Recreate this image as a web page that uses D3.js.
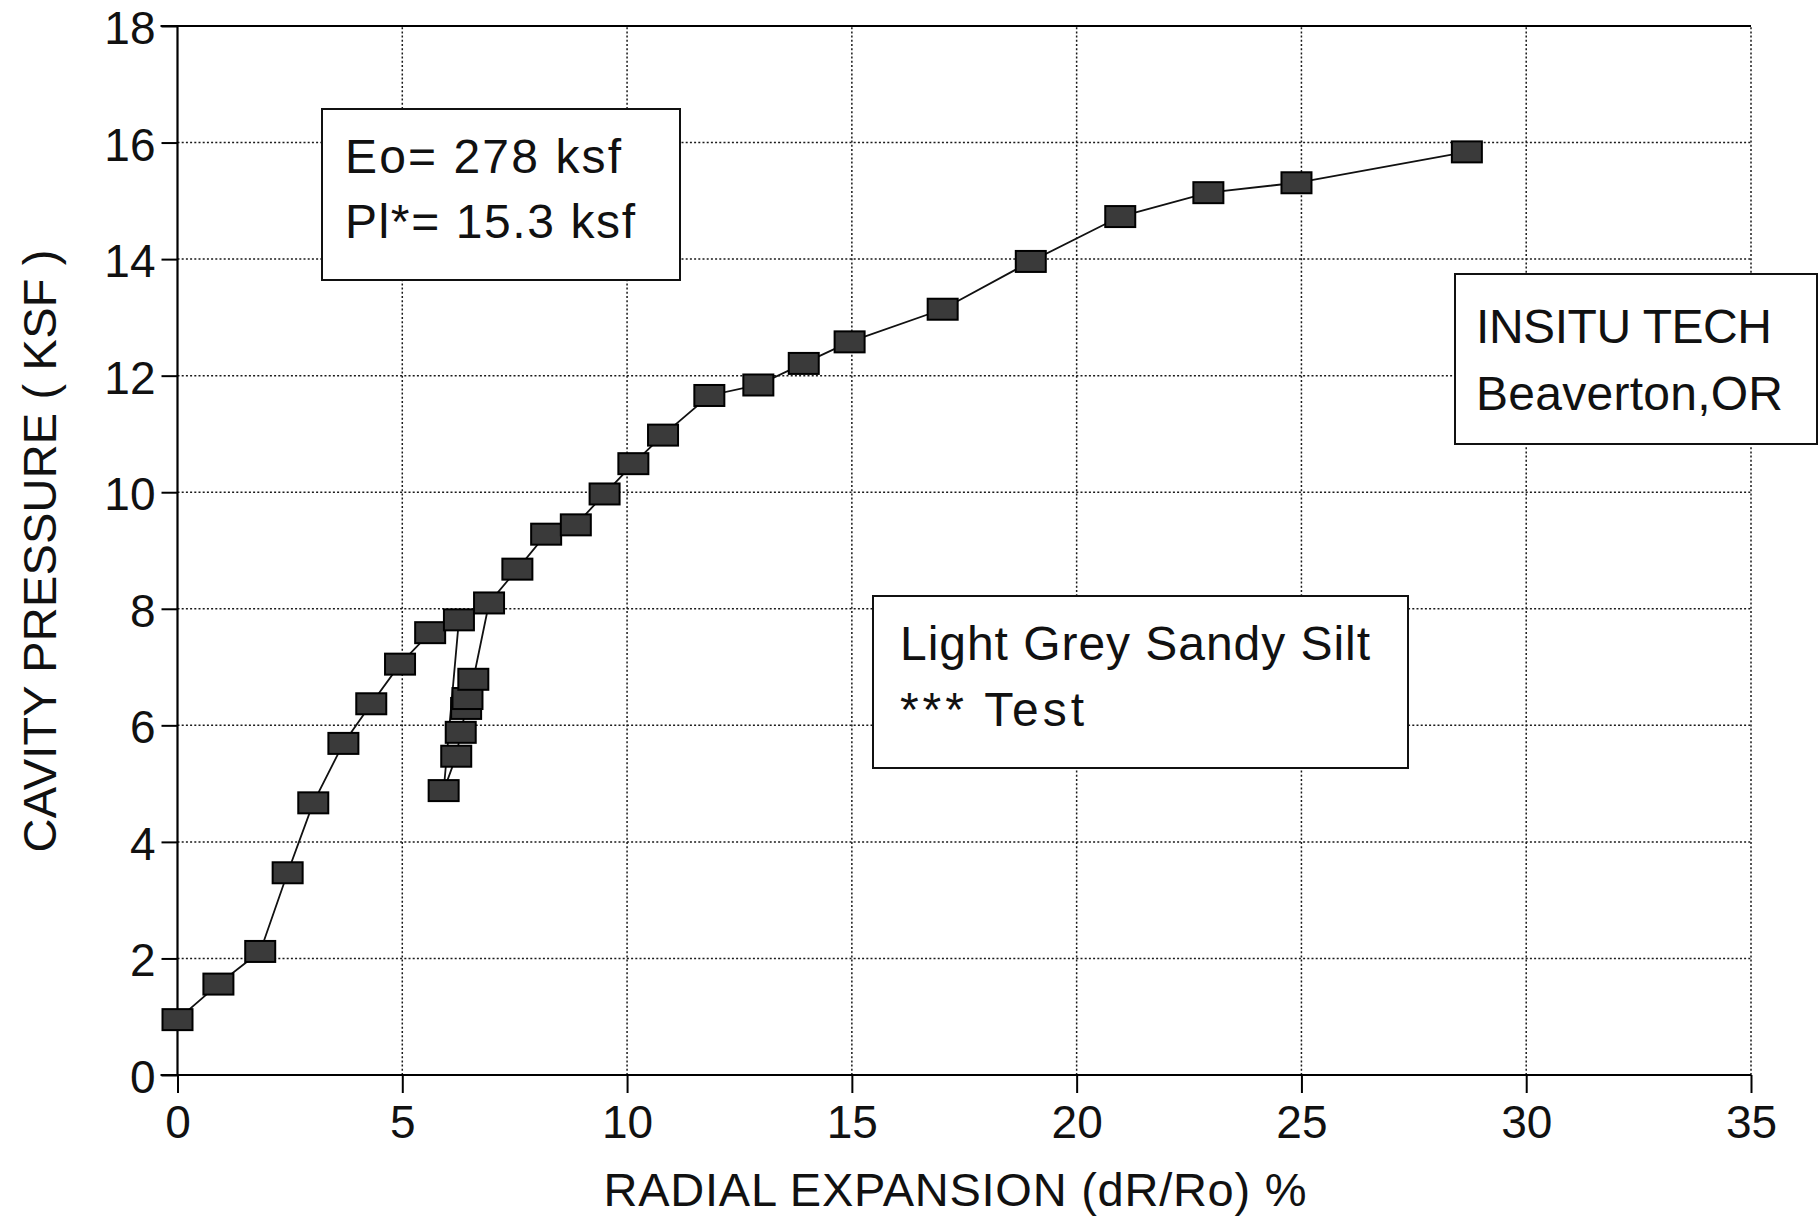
<!DOCTYPE html>
<html>
<head>
<meta charset="utf-8">
<script src="https://cdn.jsdelivr.net/npm/d3@7"></script>
<style>
  body { margin: 0; background: #fff; }
  svg { display: block; }
  text { font-family: "Liberation Sans", Arial, Helvetica, sans-serif; fill: #111; }
</style>
</head>
<body>
<div id="chart"></div>
<script>
// pressuremeter test: radial expansion (%) vs cavity pressure (ksf)
const expansion = [0, 0.91, 1.84, 2.45, 3.02, 3.69, 4.31, 4.95, 5.62, 6.26,
  5.92, 6.20, 6.30, 6.42, 6.45, 6.58, 6.93,
  7.56, 8.2, 8.86, 9.5, 10.14, 10.8, 11.83, 12.92, 13.93, 14.95,
  17.02, 18.98, 20.97, 22.93, 24.89, 28.68];
const pressure = [0.95, 1.56, 2.12, 3.47, 4.67, 5.69, 6.37, 7.05, 7.59, 7.81,
  4.88, 5.47, 5.88, 6.29, 6.46, 6.79, 8.10,
  8.68, 9.28, 9.44, 9.97, 10.49, 10.98, 11.66, 11.84, 12.21, 12.58,
  13.14, 13.96, 14.73, 15.14, 15.31, 15.84];

const xTicks = [0, 5, 10, 15, 20, 25, 30, 35];
const yTicks = [0, 2, 4, 6, 8, 10, 12, 14, 16, 18];

const xTitle = "RADIAL EXPANSION (dR/Ro) %";
const yTitle = "CAVITY PRESSURE ( KSF )";
const resultLines = ["Eo= 278 ksf", "Pl*= 15.3 ksf"];
const companyLines = ["INSITU TECH", "Beaverton,OR"];
const soilLines = ["Light Grey Sandy Silt", "*** Test"];

const width = 1818;
const height = 1219;

const x = d3.scaleLinear().domain([0, 35]).range([177.5, 1751]);
const y = d3.scaleLinear().domain([0, 18]).range([1075, 26]);

const svg = d3.select("#chart")
  .append("svg")
  .attr("width", width)
  .attr("height", height);

// dotted grid
const grid = svg.append("g")
  .attr("stroke", "#1a1a1a")
  .attr("stroke-width", 1.5)
  .attr("stroke-dasharray", "2,2.2");

grid.selectAll("line.h")
  .data(yTicks.filter(d => d > 0 && d < 18))
  .enter().append("line")
  .attr("x1", x(0)).attr("x2", x(35))
  .attr("y1", d => y(d)).attr("y2", d => y(d));

grid.selectAll("line.v")
  .data(xTicks.filter(d => d > 0))
  .enter().append("line")
  .attr("y1", y(0)).attr("y2", y(18))
  .attr("x1", d => x(d)).attr("x2", d => x(d));

// axes
const yAxis = svg.append("g")
  .attr("transform", `translate(${x(0)},0)`)
  .call(d3.axisLeft(y).tickValues(yTicks).tickSize(16).tickPadding(6));

const xAxis = svg.append("g")
  .attr("transform", `translate(0,${y(0)})`)
  .call(d3.axisBottom(x).tickValues(xTicks).tickSize(18).tickPadding(12));

[xAxis, yAxis].forEach(g => {
  g.select(".domain").remove();
  g.selectAll("line").attr("stroke", "#000").attr("stroke-width", 2);
  g.selectAll("text")
    .attr("font-size", 46)
    .attr("fill", "#1a1a1a")
    .style("font-family", "'Liberation Sans', Arial, sans-serif");
});
yAxis.selectAll("text").attr("dy", "0.38em");

// frame: left, bottom, top solid
svg.append("path")
  .attr("d", `M${x(0) - 17},${y(18)}H${x(35)}M${x(0)},${y(18)}V${y(0)}M${x(0) - 17},${y(0)}H${x(35)}`)
  .attr("fill", "none")
  .attr("stroke", "#000")
  .attr("stroke-width", 2.2);

// axis titles
svg.append("text")
  .attr("x", 955)
  .attr("y", 1206)
  .attr("text-anchor", "middle")
  .attr("font-size", 47)
  .attr("textLength", 703)
  .attr("lengthAdjust", "spacing")
  .text(xTitle);

svg.append("text")
  .attr("transform", "translate(56,551) rotate(-90)")
  .attr("text-anchor", "middle")
  .attr("font-size", 47)
  .attr("textLength", 603)
  .attr("lengthAdjust", "spacing")
  .text(yTitle);

// curve
const pts = expansion.map((d, i) => [d, pressure[i]]);

svg.append("path")
  .datum(pts)
  .attr("fill", "none")
  .attr("stroke", "#111")
  .attr("stroke-width", 1.8)
  .attr("d", d3.line().x(d => x(d[0])).y(d => y(d[1])));

svg.append("g")
  .selectAll("rect")
  .data(pts)
  .enter().append("rect")
  .attr("x", d => x(d[0]) - 15)
  .attr("y", d => y(d[1]) - 10.5)
  .attr("width", 30)
  .attr("height", 21)
  .attr("fill", "#3a3a3a")
  .attr("stroke", "#000")
  .attr("stroke-width", 2);

// annotation boxes
function noteBox(bx, by, bw, bh, lines, tx, baselines, lengths) {
  const g = svg.append("g");
  g.append("rect")
    .attr("x", bx).attr("y", by)
    .attr("width", bw).attr("height", bh)
    .attr("fill", "#fff")
    .attr("stroke", "#111")
    .attr("stroke-width", 2);
  lines.forEach((t, i) => {
    g.append("text")
      .attr("x", tx)
      .attr("y", baselines[i])
      .attr("font-size", 48)
      .attr("textLength", lengths[i])
      .attr("lengthAdjust", "spacing")
      .text(t);
  });
}

noteBox(322, 109, 358, 171, resultLines, 345, [173, 238], [276, 290]);
noteBox(1455, 274, 362, 170, companyLines, 1476, [343, 410], [296, 307]);
noteBox(873, 596, 535, 172, soilLines, 900, [660, 726], [470, 184]);
</script>
</body>
</html>
